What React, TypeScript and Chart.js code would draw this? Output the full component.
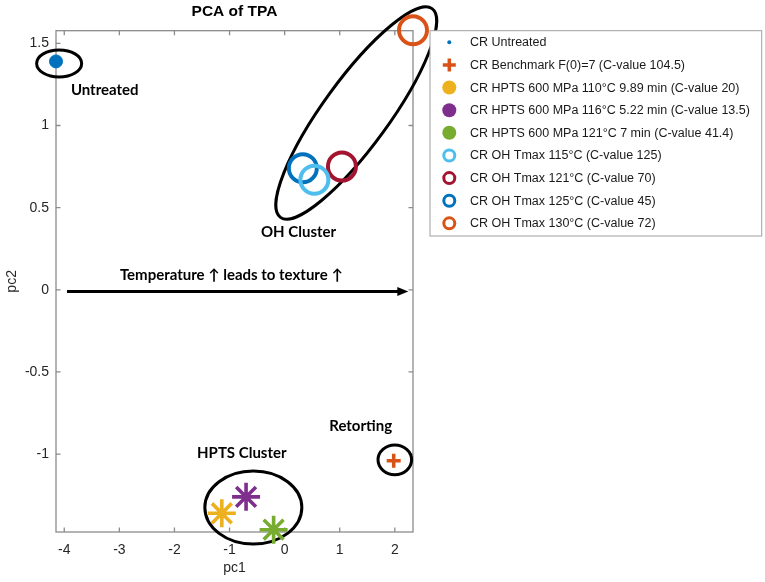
import { useEffect, useRef } from 'react';
import { Chart, registerables } from 'chart.js';

Chart.register(...registerables);

// ---------- data ----------
const seriesNames = [
  'CR Untreated',
  'CR Benchmark F(0)=7 (C-value 104.5)',
  'CR HPTS 600 MPa 110°C 9.89 min (C-value 20)',
  'CR HPTS 600 MPa 116°C 5.22 min (C-value 13.5)',
  'CR HPTS 600 MPa 121°C 7 min (C-value 41.4)',
  'CR OH Tmax 115°C (C-value 125)',
  'CR OH Tmax 121°C (C-value 70)',
  'CR OH Tmax 125°C (C-value 45)',
  'CR OH Tmax 130°C (C-value 72)',
];
const pc1Values = [-4.15, 1.98, -1.14, -0.7, -0.2, 0.54, 1.04, 0.33, 2.33];
const pc2Values = [1.39, -1.04, -1.36, -1.26, -1.46, 0.67, 0.75, 0.74, 1.58];
const xTickValues = [-4, -3, -2, -1, 0, 1, 2];
const yTickValues = [-1, -0.5, 0, 0.5, 1, 1.5];
const annotationLabels = [
  'Untreated',
  'OH Cluster',
  'Temperature ↑ leads to texture ↑',
  'HPTS Cluster',
  'Retorting',
];
const chartTitle = 'PCA of TPA';
const xTitle = 'pc1';
const yTitle = 'pc2';

// ---------- styles / layout ----------
const X_MIN = -4.15;
const X_MAX = 2.33;
const Y_MIN = -1.474;
const Y_MAX = 1.577;

type LegendMark = { shape: 'dot' | 'cross' | 'ring'; r: number; lw: number };
type SeriesStyle = {
  color: string;
  pointStyle: string;
  radius: number;
  borderWidth: number;
  filled: boolean;
  legend: LegendMark;
};

const seriesStyles: SeriesStyle[] = [
  { color: '#0072BD', pointStyle: 'circle', radius: 6.5, borderWidth: 1, filled: true, legend: { shape: 'dot', r: 2, lw: 0 } },
  { color: '#D95319', pointStyle: 'cross', radius: 7, borderWidth: 3.5, filled: false, legend: { shape: 'cross', r: 6.5, lw: 3.5 } },
  { color: '#EDB120', pointStyle: 'star', radius: 14, borderWidth: 3.6, filled: false, legend: { shape: 'dot', r: 7, lw: 0 } },
  { color: '#7E2F8E', pointStyle: 'star', radius: 14, borderWidth: 3.6, filled: false, legend: { shape: 'dot', r: 7, lw: 0 } },
  { color: '#77AC30', pointStyle: 'star', radius: 14, borderWidth: 3.6, filled: false, legend: { shape: 'dot', r: 7, lw: 0 } },
  { color: '#4DBEEE', pointStyle: 'circle', radius: 14, borderWidth: 4, filled: false, legend: { shape: 'ring', r: 5.5, lw: 3 } },
  { color: '#A2142F', pointStyle: 'circle', radius: 14, borderWidth: 4, filled: false, legend: { shape: 'ring', r: 5.5, lw: 3 } },
  { color: '#0072BD', pointStyle: 'circle', radius: 14, borderWidth: 4, filled: false, legend: { shape: 'ring', r: 5.5, lw: 3 } },
  { color: '#D95319', pointStyle: 'circle', radius: 14, borderWidth: 4, filled: false, legend: { shape: 'ring', r: 5.5, lw: 3 } },
];

// ellipses: centre in data units, radii in px, rotation in degrees
const ellipseShapes = [
  { cx: -4.093, cy: 1.378, rx: 22.5, ry: 13.5, rot: 0 },
  { cx: 1.3, cy: 1.076, rx: 129, ry: 33, rot: -54 },
  { cx: -0.568, cy: -1.325, rx: 48.5, ry: 36.5, rot: 0 },
  { cx: 2.0, cy: -1.035, rx: 16.8, ry: 14.8, rot: 0 },
];

// text annotation anchors (data units), left-aligned, vertically centred
const labelAnchors = [
  { x: -3.88, y: 1.216 },
  { x: -0.43, y: 0.353 },
  { x: -2.99, y: 0.091 },
  { x: -1.59, y: -0.997 },
  { x: 0.81, y: -0.831 },
];

const arrowSpec = { x0: -3.95, x1: 2.245, y: -0.01 };

const AXIS_COLOR = '#8c8c8c';
const TEXT_COLOR = '#262626';
const ANNOT_FONT = 'bold 15px Lato, "Open Sans", sans-serif';
const TICK_FONT_FAMILY = '"Liberation Sans", Arial, sans-serif';

const decorPlugin = {
  id: 'decor',
  beforeDatasetsDraw(chart: any) {
    const { ctx, chartArea: a, scales } = chart;
    const xs = scales.x;
    const ys = scales.y;
    ctx.save();
    // frame
    ctx.strokeStyle = AXIS_COLOR;
    ctx.lineWidth = 1.3;
    ctx.strokeRect(a.left, a.top, a.right - a.left, a.bottom - a.top);
    // inward ticks
    const tl = 4.5;
    ctx.beginPath();
    xTickValues.forEach((v) => {
      const px = xs.getPixelForValue(v);
      ctx.moveTo(px, a.bottom);
      ctx.lineTo(px, a.bottom - tl);
      ctx.moveTo(px, a.top);
      ctx.lineTo(px, a.top + tl);
    });
    yTickValues.forEach((v) => {
      const py = ys.getPixelForValue(v);
      ctx.moveTo(a.left, py);
      ctx.lineTo(a.left + tl, py);
      ctx.moveTo(a.right, py);
      ctx.lineTo(a.right - tl, py);
    });
    ctx.stroke();

    // ellipses
    ctx.strokeStyle = '#000';
    ctx.lineWidth = 3;
    ellipseShapes.forEach((e) => {
      ctx.beginPath();
      ctx.ellipse(xs.getPixelForValue(e.cx), ys.getPixelForValue(e.cy), e.rx, e.ry, (e.rot * Math.PI) / 180, 0, Math.PI * 2);
      ctx.stroke();
    });

    // arrow
    const ax0 = xs.getPixelForValue(arrowSpec.x0);
    const ax1 = xs.getPixelForValue(arrowSpec.x1);
    const ay = ys.getPixelForValue(arrowSpec.y);
    const headLen = 11;
    const headHalf = 4.5;
    ctx.lineWidth = 3;
    ctx.beginPath();
    ctx.moveTo(ax0, ay);
    ctx.lineTo(ax1 - headLen + 1, ay);
    ctx.stroke();
    ctx.fillStyle = '#000';
    ctx.beginPath();
    ctx.moveTo(ax1, ay);
    ctx.lineTo(ax1 - headLen, ay - headHalf);
    ctx.lineTo(ax1 - headLen, ay + headHalf);
    ctx.closePath();
    ctx.fill();
    ctx.restore();
  },
  afterDraw(chart: any) {
    const { ctx, chartArea: a, scales } = chart;
    const xs = scales.x;
    const ys = scales.y;
    ctx.save();
    // annotation labels
    ctx.fillStyle = '#000';
    ctx.font = ANNOT_FONT;
    ctx.textAlign = 'left';
    ctx.textBaseline = 'middle';
    annotationLabels.forEach((t, i) => {
      const p = labelAnchors[i];
      ctx.fillText(t, xs.getPixelForValue(p.x), ys.getPixelForValue(p.y));
    });

    // title
    ctx.fillStyle = '#000';
    ctx.font = `bold 15.5px ${TICK_FONT_FAMILY}`;
    ctx.textAlign = 'center';
    ctx.fillText(chartTitle, (a.left + a.right) / 2, 11.5);

    // axis titles
    ctx.fillStyle = TEXT_COLOR;
    ctx.font = `14px ${TICK_FONT_FAMILY}`;
    ctx.fillText(xTitle, (a.left + a.right) / 2, 568);
    ctx.save();
    ctx.translate(12, (a.top + a.bottom) / 2);
    ctx.rotate(-Math.PI / 2);
    ctx.fillText(yTitle, 0, 0);
    ctx.restore();

    // legend
    const lx0 = 430;
    const ly0 = 30.7;
    const lx1 = 761.7;
    const ly1 = 236;
    ctx.fillStyle = '#fff';
    ctx.fillRect(lx0, ly0, lx1 - lx0, ly1 - ly0);
    ctx.strokeStyle = '#a0a0a0';
    ctx.lineWidth = 1;
    ctx.strokeRect(lx0, ly0, lx1 - lx0, ly1 - ly0);
    const step = 22.63;
    chart.data.datasets.forEach((ds: any, i: number) => {
      const st = seriesStyles[i];
      const cy = 42.3 + i * step;
      const mx = 449.3;
      const m = st.legend;
      ctx.strokeStyle = st.color;
      ctx.fillStyle = st.color;
      if (m.shape === 'dot') {
        ctx.beginPath();
        ctx.arc(mx, cy, m.r, 0, Math.PI * 2);
        ctx.fill();
      } else if (m.shape === 'ring') {
        ctx.lineWidth = m.lw;
        ctx.beginPath();
        ctx.arc(mx, cy, m.r, 0, Math.PI * 2);
        ctx.stroke();
      } else {
        ctx.lineWidth = m.lw;
        ctx.beginPath();
        ctx.moveTo(mx - m.r, cy);
        ctx.lineTo(mx + m.r, cy);
        ctx.moveTo(mx, cy - m.r);
        ctx.lineTo(mx, cy + m.r);
        ctx.stroke();
      }
      ctx.fillStyle = '#1a1a1a';
      ctx.font = `12.5px ${TICK_FONT_FAMILY}`;
      ctx.textAlign = 'left';
      ctx.textBaseline = 'middle';
      ctx.fillText(ds.label, 470, cy + 0.5);
    });
    ctx.restore();
  },
};

export default function App() {
  const canvasRef = useRef<HTMLCanvasElement | null>(null);

  useEffect(() => {
    const canvas = canvasRef.current;
    if (!canvas) return;
    const datasets = seriesNames.map((name, i) => {
      const st = seriesStyles[i];
      return {
        label: name,
        data: [{ x: pc1Values[i], y: pc2Values[i] }],
        pointStyle: st.pointStyle,
        pointRadius: st.radius,
        pointHoverRadius: st.radius,
        borderColor: st.color,
        backgroundColor: st.filled ? st.color : 'rgba(0,0,0,0)',
        pointBorderWidth: st.borderWidth,
        borderWidth: st.borderWidth,
        clip: false as any,
      };
    });
    const chart = new Chart(canvas, {
      type: 'scatter',
      data: { datasets },
      options: {
        animation: false,
        responsive: false,
        events: [],
        layout: { padding: { left: 0, top: 30.7, right: 352, bottom: 0 } },
        plugins: {
          legend: { display: false },
          tooltip: { enabled: false },
          title: { display: false },
        },
        scales: {
          x: {
            type: 'linear',
            min: X_MIN,
            max: X_MAX,
            grid: { display: false, drawTicks: false },
            border: { display: false },
            afterBuildTicks: (s: any) => {
              s.ticks = xTickValues.map((v) => ({ value: v }));
            },
            afterFit: (s: any) => {
              s.height = 50;
            },
            ticks: {
              padding: 10,
              color: TEXT_COLOR,
              font: { family: TICK_FONT_FAMILY, size: 14 },
              maxRotation: 0,
              autoSkip: false,
              callback: (v: any) => String(v),
            },
          },
          y: {
            type: 'linear',
            min: Y_MIN,
            max: Y_MAX,
            grid: { display: false, drawTicks: false },
            border: { display: false },
            afterBuildTicks: (s: any) => {
              s.ticks = yTickValues.map((v) => ({ value: v }));
            },
            afterFit: (s: any) => {
              s.width = 56;
            },
            ticks: {
              padding: 7,
              color: TEXT_COLOR,
              font: { family: TICK_FONT_FAMILY, size: 14 },
              autoSkip: false,
              callback: (v: any) => String(v),
            },
          },
        },
      },
      plugins: [decorPlugin],
    });
    return () => chart.destroy();
  }, []);

  return (
    <div style={{ position: 'absolute', left: 0, top: 0, width: 765, height: 582, background: '#fff' }}>
      <canvas ref={canvasRef} width={765} height={582} style={{ display: 'block' }} />
    </div>
  );
}
